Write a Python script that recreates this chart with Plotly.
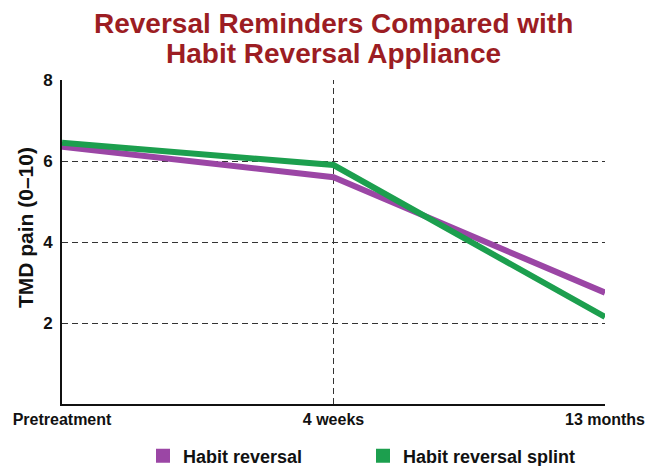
import plotly.graph_objects as go

# Time points and mean TMD pain scores (0–10 scale)
timepoints = ["Pretreatment", "4 weeks", "13 months"]
x_pos = [0, 1, 2]
habit_reversal = [6.35, 5.6, 2.75]
habit_reversal_splint = [6.45, 5.9, 2.15]
y_ticks = [2, 4, 6, 8]
series_names = ["Habit reversal", "Habit reversal splint"]
title_lines = ["Reversal Reminders Compared with", "Habit Reversal Appliance"]

PURPLE = "#9B46A5"
GREEN = "#1C9F4E"
TITLE_RED = "#9C1D23"
FONT = "Liberation Sans, Arial, sans-serif"
H = 466
M_TOP, M_BOTTOM = 80, 62
PLOT_H = H - M_TOP - M_BOTTOM


def paper_y(px_from_top):
    """Convert a pixel offset from the top of the page to paper y."""
    return (H - M_BOTTOM - px_from_top) / PLOT_H


fig = go.Figure()

# Data lines
fig.add_trace(go.Scatter(x=x_pos, y=habit_reversal, mode="lines",
                         line=dict(color=PURPLE, width=6),
                         name=series_names[0], showlegend=False))
fig.add_trace(go.Scatter(x=x_pos, y=habit_reversal_splint, mode="lines",
                         line=dict(color=GREEN, width=6),
                         name=series_names[1], showlegend=False))

# Square legend swatches
for name, color in zip(series_names, [PURPLE, GREEN]):
    fig.add_trace(go.Scatter(x=[None], y=[None], mode="markers",
                             marker=dict(symbol="square", size=14, color=color),
                             name=f"<b>{name}</b>", showlegend=True))

# Vertical dashed guide at the 4-week visit
fig.add_shape(type="line", xref="x", yref="y", x0=x_pos[1], x1=x_pos[1], y0=0, y1=8,
              line=dict(color="#333333", width=1, dash="6px,4px"), layer="below")

# Two-line title, each line placed separately for tight line spacing
title_annotations = [
    dict(text=f"<b>{line}</b>", xref="paper", yref="paper",
         x=0.5, y=paper_y(yc), xanchor="center", yanchor="middle", showarrow=False,
         font=dict(family=FONT, size=28, color=TITLE_RED))
    for line, yc in zip(title_lines, [24, 53])
]

fig.update_layout(
    width=645, height=H,
    margin=dict(l=62, r=40, t=M_TOP, b=M_BOTTOM, autoexpand=False),
    paper_bgcolor="white", plot_bgcolor="white",
    font=dict(family=FONT, color="#111111"),
    xaxis=dict(
        range=[0, 2], tickvals=x_pos,
        ticktext=[f"<b>{t}</b>" for t in timepoints],
        tickfont=dict(size=16, color="#111111"),
        ticklabeloverflow="allow",
        showgrid=False, zeroline=False,
        showline=True, linecolor="#111111", linewidth=2,
        ticks="",
    ),
    yaxis=dict(
        range=[0, 8], tickvals=y_ticks,
        ticktext=[f"<b>{v}</b>" for v in y_ticks],
        tickfont=dict(size=17, color="#111111"),
        showgrid=True, gridcolor="#333333", gridwidth=1, griddash="6px,4px",
        zeroline=False,
        showline=True, linecolor="#111111", linewidth=2,
        ticks="", ticklabelstandoff=4,
    ),
    legend=dict(
        orientation="h",
        xref="container", x=143 / 645, xanchor="left",
        yref="container", y=1 - 456 / H, yanchor="middle",
        font=dict(family=FONT, size=18, color="#111111"),
        entrywidth=175, entrywidthmode="pixels",
        itemclick=False, itemdoubleclick=False,
        bgcolor="rgba(0,0,0,0)",
    ),
    annotations=title_annotations + [
        dict(text="<b>TMD pain (0–10)</b>", textangle=-90,
             xref="paper", yref="paper", x=-0.068, y=paper_y(228),
             xanchor="center", yanchor="middle", showarrow=False,
             font=dict(family=FONT, size=21, color="#111111")),
    ],
)

fig.write_html("out.html")
